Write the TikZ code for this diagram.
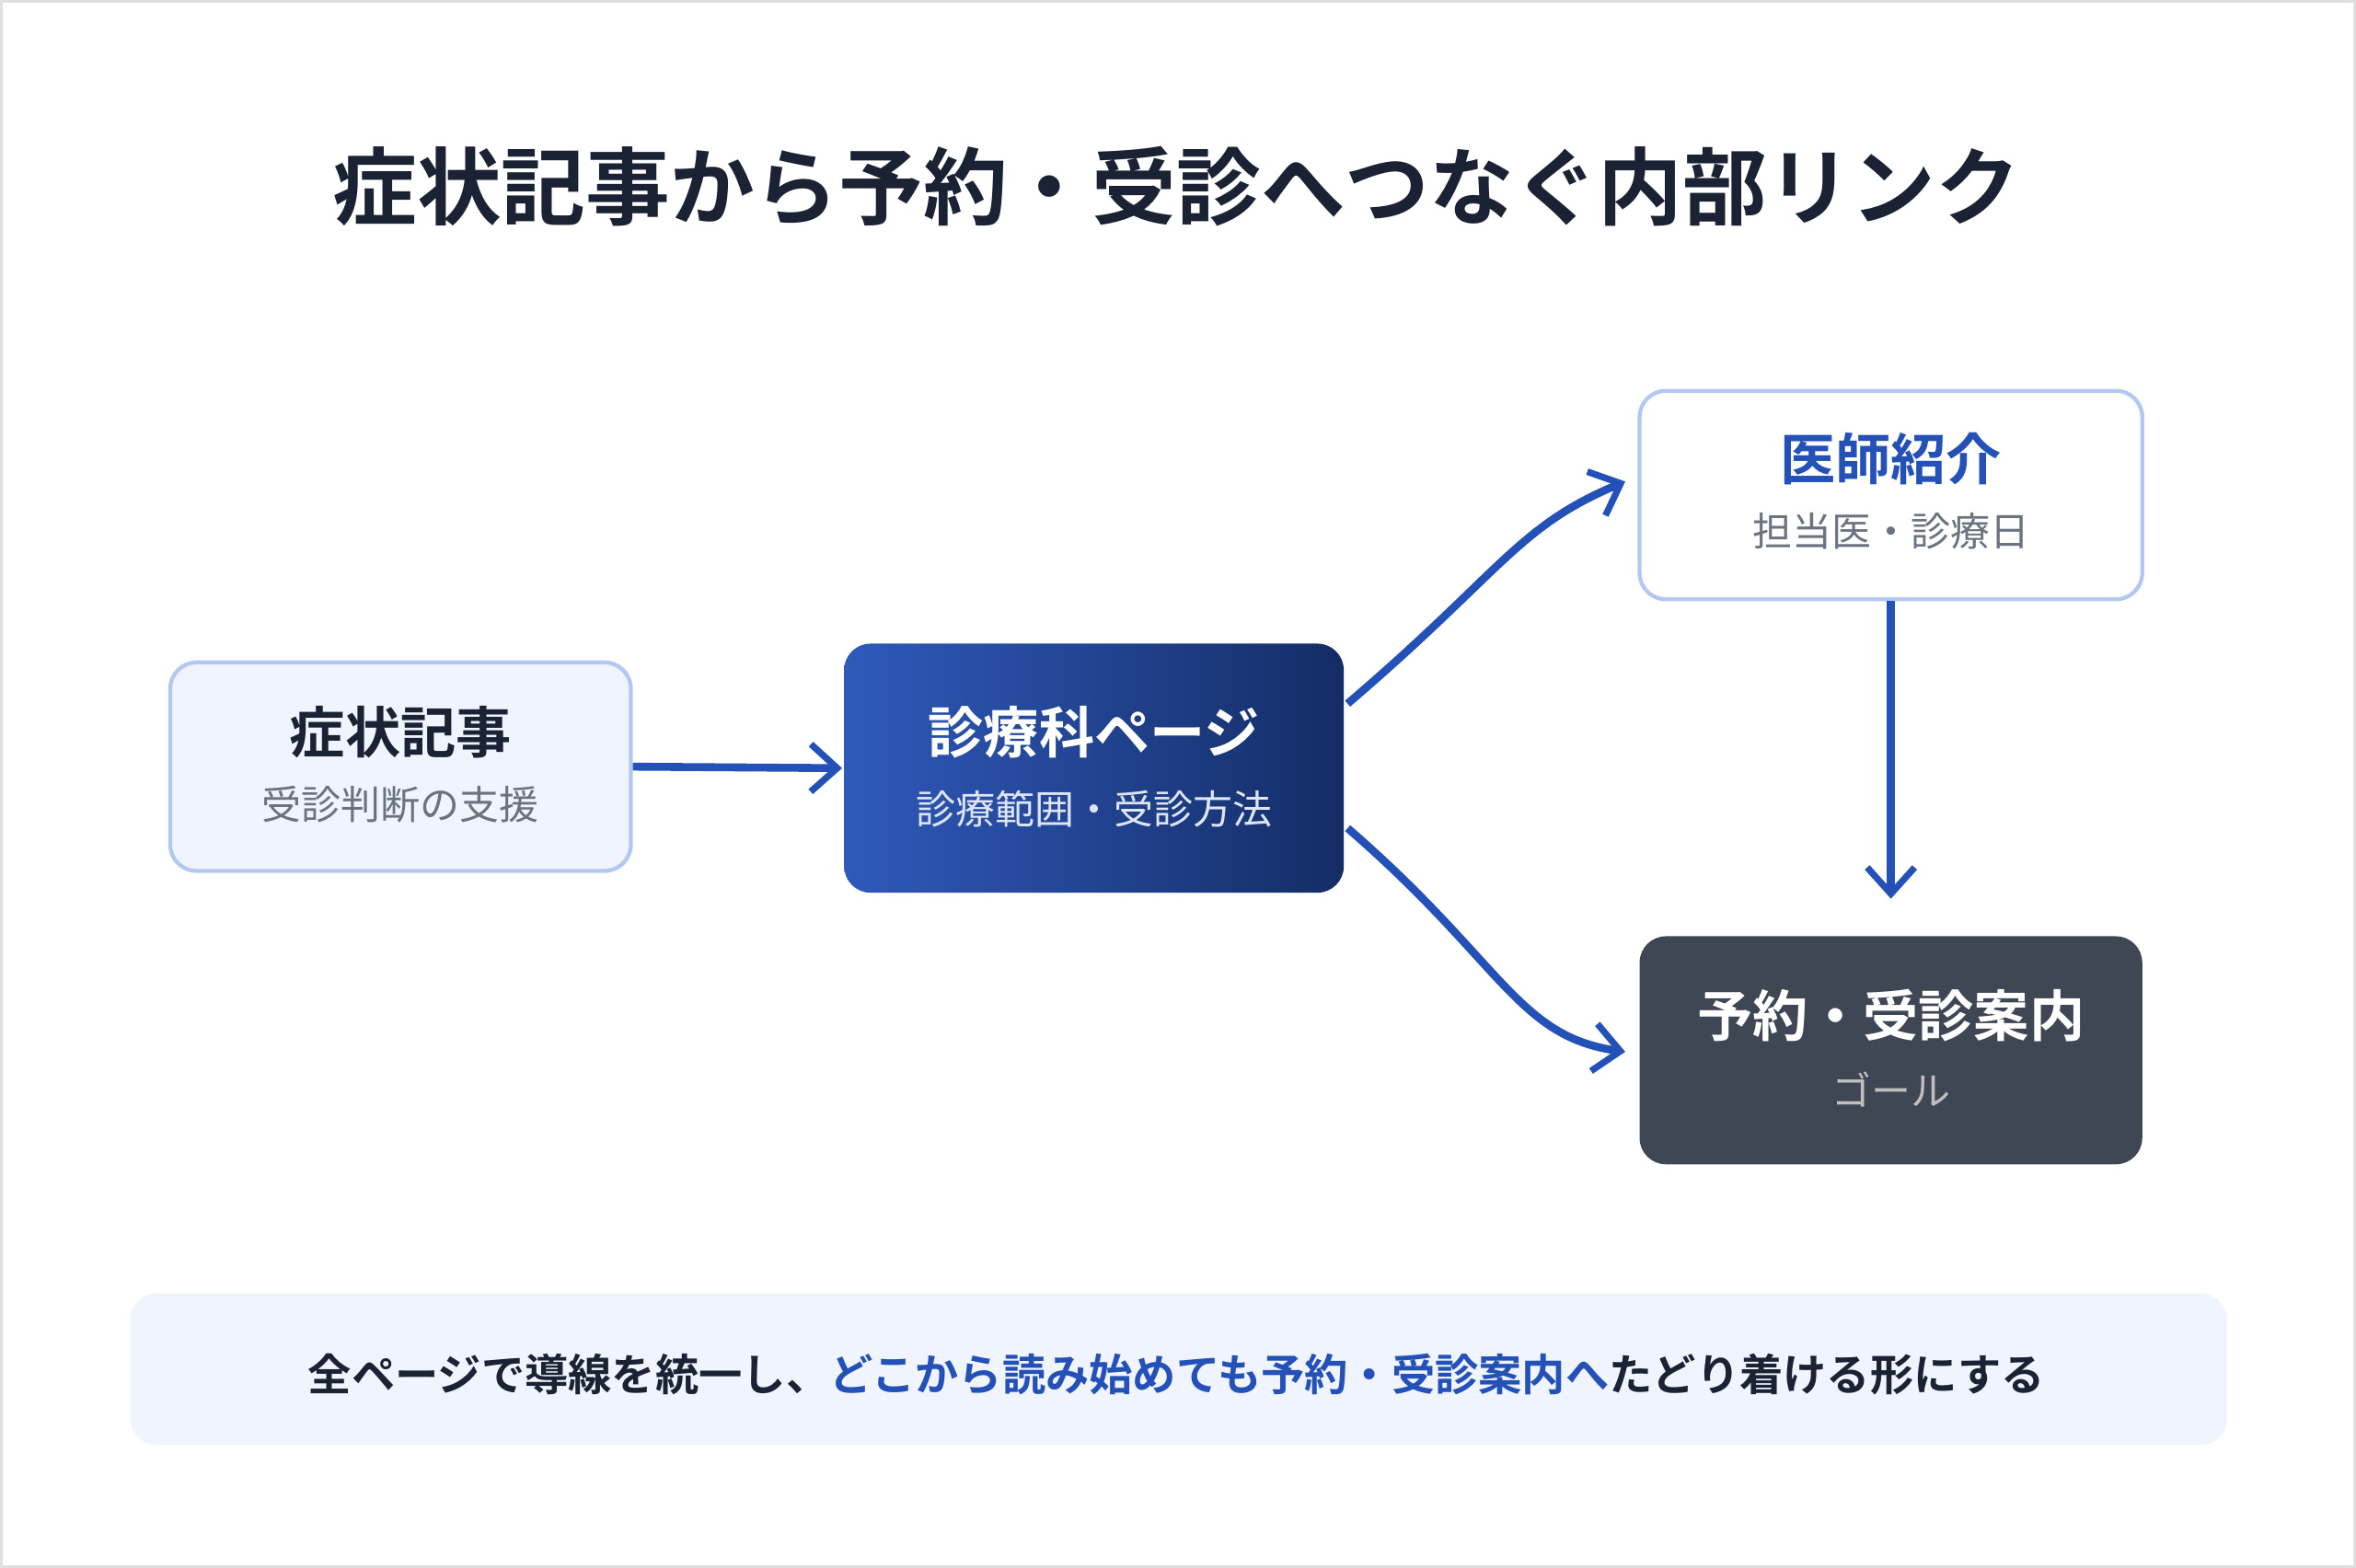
\documentclass[tikz,border=0pt]{standalone}
\usepackage{fontspec}
\setmainfont{Noto Sans CJK JP}
\newfontfamily\jpb{Noto Sans CJK JP}[BoldFont={* Bold}]
\usetikzlibrary{positioning,arrows.meta,shadings}
\definecolor{ink}{HTML}{1A2233}
\definecolor{subgray}{HTML}{6B7280}
\definecolor{linkblue}{HTML}{2451B8}
\definecolor{paleblue}{HTML}{EFF4FE}
\definecolor{edgeblue}{HTML}{B3C8F0}
\definecolor{darkbox}{HTML}{3F4654}
\tikzset{
  box/.style={rectangle, rounded corners=10pt, minimum width=6.14cm, minimum height=2.78cm, align=center, line width=1.5pt},
  ttl/.style={font=\jpb\bfseries\fontsize{21}{25}\selectfont},
  sub/.style={font=\fontsize{15}{18}\selectfont},
  link/.style={-{Straight Barb[length=10pt,width=18pt,line width=2.5pt]}, line width=3pt, draw=linkblue}
}
\begin{document}
\begin{tikzpicture}[x=0.02cm,y=-0.02cm]
  \draw[black!12, line width=1pt, fill=white] (0,0) rectangle (1568,1043);
  \node[font=\jpb\bfseries\fontsize{32}{36}\selectfont, text=ink] (title) at (783,123) {症状記事から予約・受診へつなぐ内部リンク};
  % boxes
  \node[box, draw=edgeblue, fill=paleblue] (sym) at (266,510) {};
  \node[ttl, text=ink] at (266,487) {症状記事};
  \node[sub, text=subgray] at (266,535) {受診判断の支援};
  \node[box, minimum width=6.66cm, minimum height=3.32cm, draw=none, left color=linkblue!95!white, right color=linkblue!55!black] (dep) at (728,511) {};
  \node[ttl, text=white] at (728,487) {診療科ページ};
  \node[sub, text=white!85!linkblue] at (728,538) {診療範囲・受診方法};
  \node[box, minimum width=6.7cm, draw=edgeblue, fill=white] (doc) at (1259,329) {};
  \node[ttl, text=linkblue] at (1259,305) {医師紹介};
  \node[sub, text=subgray] at (1259,353) {担当医・診療日};
  \node[box, minimum width=6.7cm, minimum height=3.04cm, draw=none, fill=darkbox] (goal) at (1259,699) {};
  \node[ttl, text=white] at (1259,676) {予約・受診案内};
  \node[sub, text=black!25] at (1259,725) {ゴール};
  % connectors
  \coordinate (docin) at (1082,320);
  \coordinate (goalin) at (1082,700);
  \coordinate (goaltop) at (1259,598);
  \draw[link] (sym.east) -- (dep.west);
  \draw[link] (897,468) .. controls (1000,380) and (1010,350) .. (docin);
  \draw[link] (897,551) .. controls (1000,640) and (1010,690) .. (goalin);
  \draw[link] (doc.south) -- (goaltop);
  % note
  \fill[paleblue] (86,861) [rounded corners=10pt] rectangle (1483,962);
  \node[font=\jpb\bfseries\fontsize{16.5}{20}\selectfont, text=ink] (note) at (783,915) {全ページで導線を統一し、\textcolor{linkblue}{どこから読み始めても予約・受診案内へ}たどり着ける形にする};
\end{tikzpicture}
\end{document}
